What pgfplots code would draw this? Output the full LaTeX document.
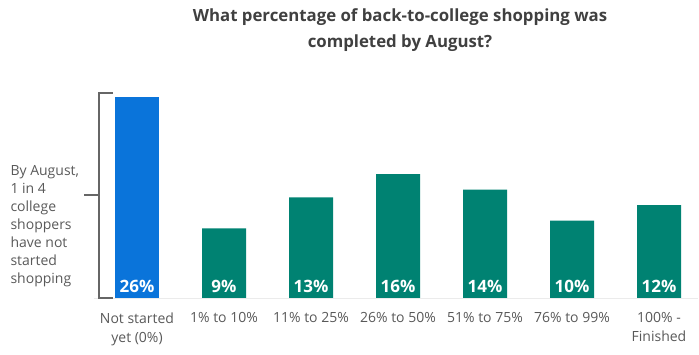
\documentclass[border=0pt]{standalone}
\usepackage{pgfplots}
\pgfplotsset{compat=1.18}
\usepackage{fontspec}
\setmainfont{Open Sans}
\definecolor{msblue}{HTML}{0A74DA}
\definecolor{msgreen}{HTML}{008272}
\definecolor{txtgray}{HTML}{595959}
\definecolor{titlegray}{HTML}{404040}
\begin{document}
\begin{tikzpicture}[x=1pt,y=1pt]
\path[use as bounding box] (0,0) rectangle (699,355);
\begin{axis}[
  at={(93.5pt,57pt)}, anchor=south west,
  scale only axis, width=604.65pt, height=205pt,
  xmin=-0.5, xmax=6.45, ymin=0, ymax=26.5,
  axis x line=bottom, axis y line=none,
  x axis line style={draw=black!8, line width=0.8pt, -},
  xtick={0,1,2,3,4,5,6}, xtick style={draw=none},
  xticklabels={{Not started\\yet (0\%)},{1\% to 10\%},{11\% to 25\%},{26\% to 50\%},{51\% to 75\%},{76\% to 99\%},{100\% -\\Finished}},
  xticklabel style={align=center, font=\fontsize{14}{19}\selectfont, text=txtgray, anchor=north, yshift=-7pt},
  ybar, bar width=44pt, bar shift=0pt,
  clip=false,
]
\addplot[fill=msblue, draw=none] coordinates {(0,26)};
\addplot[fill=msgreen, draw=none] coordinates {(1,9) (2,13) (3,16) (4,14) (5,10) (6,12)};
\addplot[draw=none, mark=none, point meta=explicit symbolic,
  nodes near coords, every node near coord/.style={anchor=south, text=white, font=\fontsize{17}{18}\bfseries\selectfont, yshift=1.5pt}]
  coordinates {(0,0) [26\%] (1,0) [9\%] (2,0) [13\%] (3,0) [16\%] (4,0) [14\%] (5,0) [10\%] (6,0) [12\%]};
\end{axis}
% bracket
\draw[gray!80!black, line width=1.3pt] (113,262) -- (99,262) -- (99,57) -- (113,57);
\draw[gray!80!black, line width=1.3pt] (84,160) -- (99,160);
\node[anchor=north west, align=left, text=txtgray, font=\fontsize{14}{18}\selectfont] at (7,193)
  {By August,\\1 in 4\\college\\shoppers\\have not\\started\\shopping};
\node[anchor=north, align=center, text=titlegray, font=\fontsize{16.8}{26}\bfseries\selectfont] at (400,350)
  {What percentage of back-to-college shopping was\\completed by August?};
\end{tikzpicture}
\end{document}
